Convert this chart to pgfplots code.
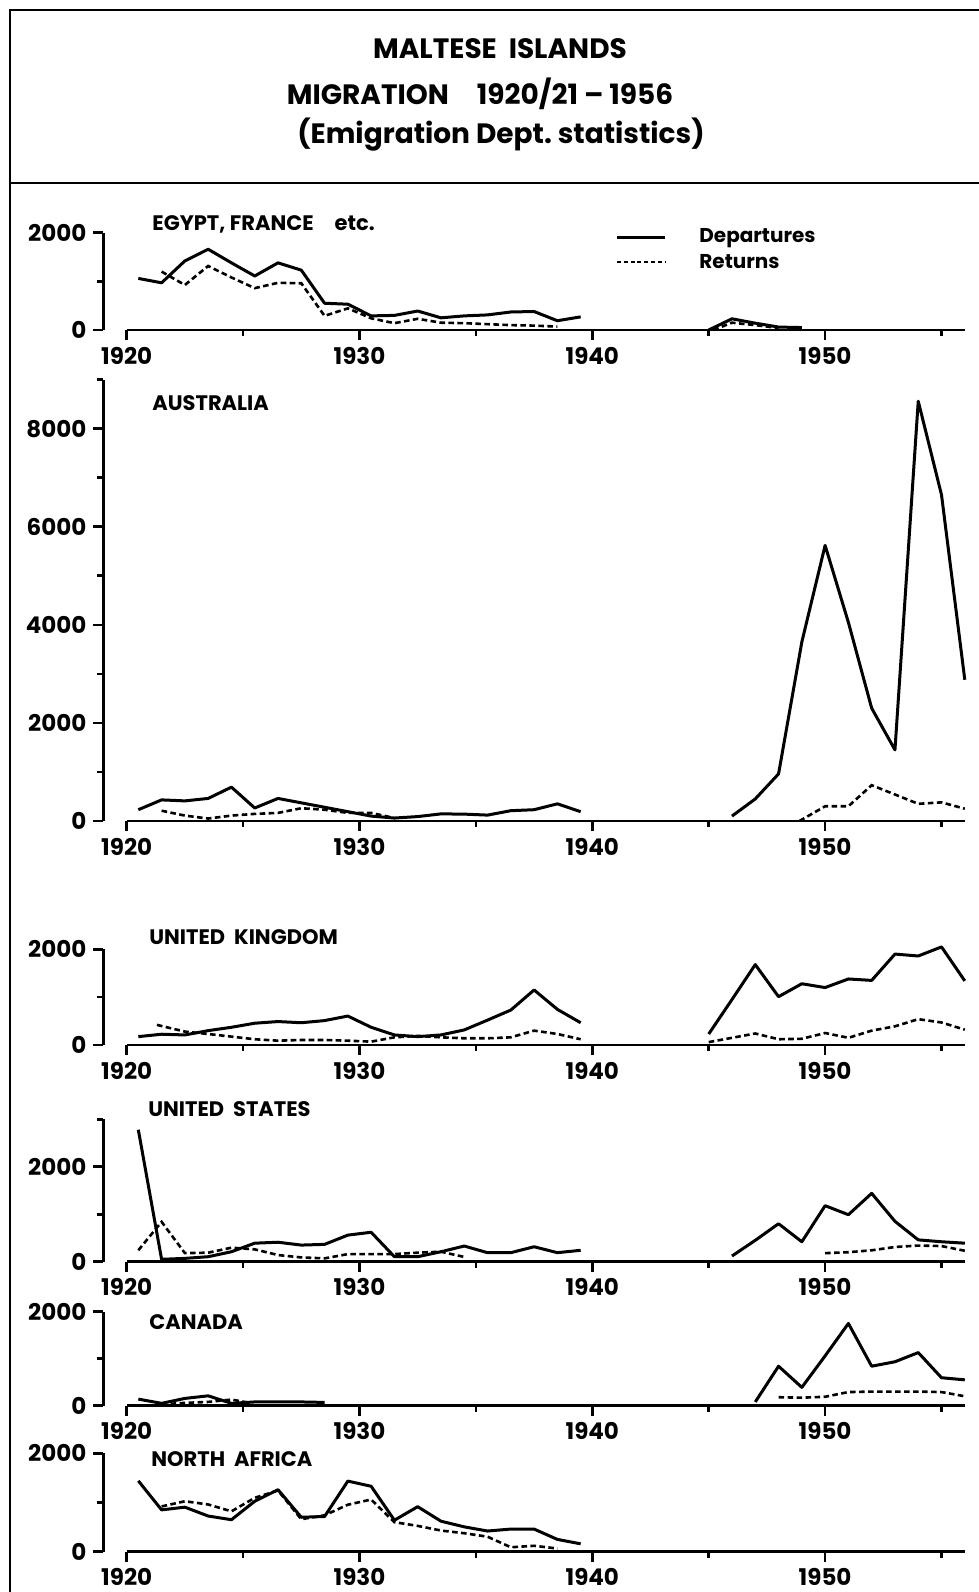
\documentclass[border=0pt]{standalone}
\usepackage{fontspec}
\setmainfont{Poppins}
\usepackage{pgfplots}
\pgfplotsset{compat=1.18}
\pgfplotsset{
  panel/.style={
    scale only axis, width=430.7pt,
    xmin=1919, xmax=1956, ymin=0,
    axis y line*=left, axis x line*=bottom,
    x axis line style={draw=none},
    y axis line style={line width=1.3pt},
    xtick={1920,1930,1940,1950}, minor xtick={1925,1935,1945,1955},
    ytick={0,2000}, minor ytick={1000},
    tick align=outside,
    major tick length=5pt, minor tick length=3pt,
    every tick/.style={line width=1.3pt, black},
    tick label style={font=\bfseries\fontsize{11.5}{12}\selectfont},
    /pgf/number format/assume math mode=true,
    /pgf/number format/1000 sep={},
    clip=false,
    anchor=south west,
  },
  dep/.style={line width=1.5pt, black, no marks, line join=round},
  ret/.style={line width=1.3pt, black, no marks, dash pattern=on 2.8pt off 1.7pt},
}
\newcommand{\xaxis}{\draw[line width=1.3pt] (axis cs:1920,0) -- (axis cs:1956,0);}
\begin{document}
\begin{tikzpicture}
\useasboundingbox (0,0) rectangle (489.5pt,796pt);
% title box
\draw[line width=1.2pt] (5pt,0pt) -- (5pt,791pt) -- (489.5pt,791pt);
\draw[line width=1.2pt] (5pt,704.5pt) -- (489.5pt,704.5pt);
\node[font=\bfseries\fontsize{14}{14}\selectfont] at (250pt,771.5pt) {MALTESE\ \ ISLANDS};
\node[font=\bfseries\fontsize{14}{14}\selectfont] at (240pt,749.25pt) {MIGRATION\quad 1920/21 -- 1956};
\node[font=\bfseries\fontsize{14}{14}\selectfont] at (250.5pt,728.5pt) {(Emigration\ Dept.\ statistics)};
% panel titles
\tikzset{ptitle/.style={anchor=west, font=\bfseries\fontsize{10.5}{11}\selectfont, inner sep=0pt}}
\node[ptitle] at (76pt,683.75pt) {EGYPT,\ FRANCE\quad etc.};
\node[ptitle] at (76pt,594.5pt) {AUSTRALIA};
\node[ptitle] at (74.5pt,327.25pt) {UNITED\ \ KINGDOM};
\node[ptitle] at (74pt,241.5pt) {UNITED\ \ STATES};
\node[ptitle] at (74.5pt,135pt) {CANADA};
\node[ptitle] at (75.5pt,66.25pt) {NORTH\ \ AFRICA};
% legend
\draw[line width=1.5pt] (308.5pt,677pt) -- (332.5pt,677pt);
\draw[line width=1.2pt, dash pattern=on 2pt off 1.4pt] (308.5pt,665pt) -- (332.5pt,665pt);
\node[anchor=west, inner sep=0pt, font=\bfseries\fontsize{10}{10}\selectfont] at (349.5pt,677pt) {Departures};
\node[anchor=west, inner sep=0pt, font=\bfseries\fontsize{10}{10}\selectfont] at (349.5pt,665pt) {Returns};

% ---------- Egypt, France etc.
\begin{axis}[panel, at={(51.7pt,631pt)}, height=48.65pt, ymax=2000]
\xaxis
\addplot[dep] coordinates {(1920.5,1060) (1921.5,970) (1922.5,1420) (1923.5,1660) (1924.5,1380) (1925.5,1110) (1926.5,1380) (1927.5,1230) (1928.5,550) (1929.5,530) (1930.5,290) (1931.5,300) (1932.5,390) (1933.5,250) (1934.5,290) (1935.5,310) (1936.5,370) (1937.5,380) (1938.5,190) (1939.5,270)};
\addplot[dep] coordinates {(1945,0) (1946,230) (1947,140) (1948,60) (1949,50)};
\addplot[ret] coordinates {(1921.5,1200) (1922.5,925) (1923.5,1315) (1924.5,1080) (1925.5,860) (1926.5,970) (1927.5,960) (1928.5,290) (1929.5,445) (1930.5,240) (1931.5,140) (1932.5,230) (1933.5,150) (1934.5,140) (1935.5,120) (1936.5,100) (1937.5,90) (1938.5,70)};
\addplot[ret] coordinates {(1945.2,0) (1946,150) (1947,100) (1948,40)};
\end{axis}

% ---------- Australia
\begin{axis}[panel, at={(51.7pt,385.5pt)}, height=220.7pt, ymax=9000,
  ytick={0,2000,4000,6000,8000}, minor ytick={1000,3000,5000,7000,9000}]
\xaxis
\addplot[dep] coordinates {(1920.5,230) (1921.5,430) (1922.5,410) (1923.5,460) (1924.5,690) (1925.5,265) (1926.5,460) (1927.5,370) (1928.5,280) (1929.5,190) (1930.5,100) (1931.5,60) (1932.5,90) (1933.5,145) (1934.5,140) (1935.5,120) (1936.5,210) (1937.5,230) (1938.5,350) (1939.5,190)};
\addplot[dep] coordinates {(1946,100) (1947,450) (1948,960) (1949,3650) (1950,5620) (1951,4050) (1952,2300) (1953,1450) (1954,8560) (1955,6650) (1956,2880)};
\addplot[ret] coordinates {(1921.5,210) (1922.5,110) (1923.5,50) (1924.5,110) (1925.5,145) (1926.5,165) (1927.5,260) (1928.5,230) (1929.5,165) (1930.5,165) (1931.5,60)};
\addplot[ret] coordinates {(1948.9,0) (1950,300) (1951,300) (1952,730) (1953,540) (1954,350) (1955,380) (1956,250)};
\end{axis}

% ---------- United Kingdom
\begin{axis}[panel, at={(51.7pt,273.5pt)}, height=47.85pt, ymax=2000]
\xaxis
\addplot[dep] coordinates {(1920.5,175) (1921.5,225) (1922.5,210) (1923.5,300) (1924.5,370) (1925.5,455) (1926.5,490) (1927.5,465) (1928.5,510) (1929.5,605) (1930.5,370) (1931.5,210) (1932.5,175) (1933.5,210) (1934.5,315) (1935.5,520) (1936.5,730) (1937.5,1150) (1938.5,745) (1939.5,465)};
\addplot[dep] coordinates {(1945,230) (1946,950) (1947,1680) (1948,1010) (1949,1280) (1950,1200) (1951,1380) (1952,1350) (1953,1900) (1954,1860) (1955,2050) (1956,1340)};
\addplot[ret] coordinates {(1921.3,420) (1922.5,280) (1923.5,230) (1924.5,175) (1925.5,120) (1926.5,90) (1927.5,105) (1928.5,105) (1929.5,90) (1930.5,70) (1931.5,160) (1932.5,190) (1933.5,160) (1934.5,140) (1935.5,140) (1936.5,160) (1937.5,300) (1938.5,230) (1939.5,120)};
\addplot[ret] coordinates {(1945,60) (1946,150) (1947,240) (1948,120) (1949,130) (1950,250) (1951,150) (1952,300) (1953,390) (1954,540) (1955,470) (1956,320)};
\end{axis}

% ---------- United States
\begin{axis}[panel, at={(51.7pt,165.15pt)}, height=71.2pt, ymax=3000,
  minor ytick={1000,3000}]
\xaxis
\addplot[dep] coordinates {(1920.5,2780) (1921.5,50) (1922.5,70) (1923.5,105) (1924.5,210) (1925.5,390) (1926.5,410) (1927.5,350) (1928.5,365) (1929.5,560) (1930.5,620) (1931.5,105) (1932.5,105) (1933.5,210) (1934.5,330) (1935.5,190) (1936.5,190) (1937.5,315) (1938.5,190) (1939.5,240)};
\addplot[dep] coordinates {(1946,120) (1947,450) (1948,800) (1949,420) (1950,1180) (1951,990) (1952,1440) (1953,850) (1954,460) (1955,420) (1956,390)};
\addplot[ret] coordinates {(1920.5,240) (1921.5,840) (1922.5,180) (1923.5,190) (1924.5,295) (1925.5,260) (1926.5,140) (1927.5,90) (1928.5,70) (1929.5,160) (1930.5,160) (1931.5,160) (1932.5,190) (1933.5,210) (1934.5,100)};
\addplot[ret] coordinates {(1950,180) (1951,200) (1952,240) (1953,310) (1954,340) (1955,330) (1956,230)};
\end{axis}

% ---------- Canada
\begin{axis}[panel, at={(51.7pt,93.15pt)}, height=47pt, ymax=2000]
\xaxis
\addplot[dep] coordinates {(1920.5,140) (1921.5,50) (1922.5,155) (1923.5,210) (1924.5,50) (1925.5,80) (1926.5,80) (1927.5,80) (1928.5,70)};
\addplot[dep] coordinates {(1947,80) (1948,840) (1949,390) (1950,1060) (1951,1750) (1952,840) (1953,935) (1954,1130) (1955,595) (1956,550)};
\addplot[ret] coordinates {(1921.5,30) (1922.5,60) (1923.5,80) (1924.5,130) (1925.3,60)};
\addplot[ret] coordinates {(1948,180) (1949,170) (1950,190) (1951,290) (1952,300) (1953,300) (1954,300) (1955,290) (1956,200)};
\end{axis}

% ---------- North Africa
\begin{axis}[panel, at={(51.7pt,20.15pt)}, height=49.2pt, ymax=2000]
\xaxis
\addplot[dep] coordinates {(1920.5,1440) (1921.5,850) (1922.5,905) (1923.5,725) (1924.5,650) (1925.5,1025) (1926.5,1260) (1927.5,700) (1928.5,715) (1929.5,1435) (1930.5,1330) (1931.5,640) (1932.5,915) (1933.5,620) (1934.5,505) (1935.5,420) (1936.5,460) (1937.5,460) (1938.5,250) (1939.5,160)};
\addplot[ret] coordinates {(1921.5,920) (1922.5,1025) (1923.5,960) (1924.5,820) (1925.5,1095) (1926.5,1245) (1927.5,660) (1928.5,740) (1929.5,955) (1930.5,1060) (1931.5,600) (1932.5,525) (1933.5,430) (1934.5,375) (1935.5,305) (1936.5,90) (1937.5,120) (1938.5,65)};
\end{axis}
\end{tikzpicture}
\end{document}
